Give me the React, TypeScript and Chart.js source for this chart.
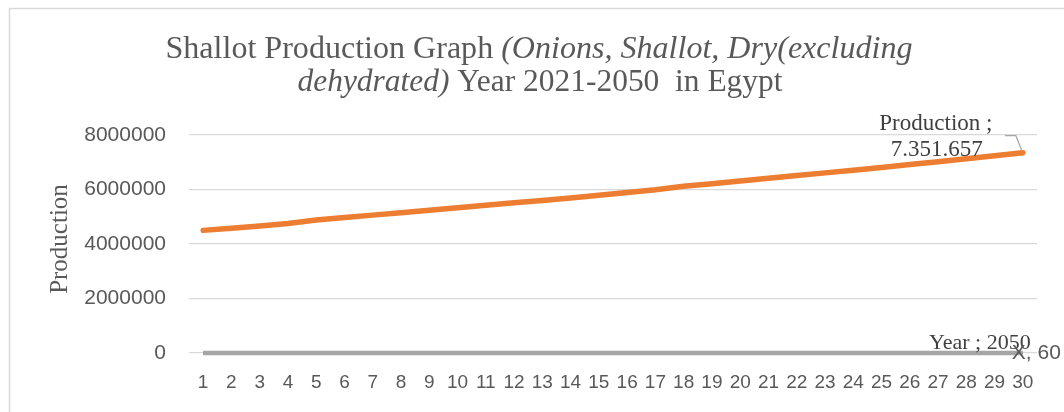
import React, { useEffect, useRef } from "react";
import { Chart, registerables } from "chart.js";
Chart.register(...registerables);

const categories = ["1","2","3","4","5","6","7","8","9","10","11","12","13","14","15","16","17","18","19","20","21","22","23","24","25","26","27","28","29","30"];
const production = [4500000,4580000,4660000,4750000,4880000,4970000,5060000,5150000,5240000,5330000,5420000,5510000,5600000,5690000,5790000,5890000,5990000,6120000,6210000,6310000,6410000,6510000,6610000,6710000,6810000,6920000,7020000,7130000,7240000,7351657];
const years = [2021,2022,2023,2024,2025,2026,2027,2028,2029,2030,2031,2032,2033,2034,2035,2036,2037,2038,2039,2040,2041,2042,2043,2044,2045,2046,2047,2048,2049,2050];
const xValues = [2,4,6,8,10,12,14,16,18,20,22,24,26,28,30,32,34,36,38,40,42,44,46,48,50,52,54,56,58,60];
const yTicks = [0,2000000,4000000,6000000,8000000];
const titleLine1 = [{ t: "Shallot Production Graph ", i: false }, { t: "(Onions, Shallot, Dry(excluding", i: true }];
const titleLine2 = [{ t: "dehydrated)", i: true }, { t: " Year 2021-2050  in Egypt", i: false }];
const yTitle = "Production";

const SERIF = '"Liberation Serif", "Times New Roman", serif';
const SANS = '"Liberation Sans", Arial, sans-serif';

function drawMixed(ctx: CanvasRenderingContext2D, segs: { t: string; i: boolean }[], cx: number, baseY: number, size: number, targetW: number) {
  let total = 0;
  const widths = segs.map((s) => {
    ctx.font = `${s.i ? "italic " : ""}${size}px ${SERIF}`;
    const w = ctx.measureText(s.t).width;
    total += w;
    return w;
  });
  const sx = targetW / total;
  ctx.save();
  ctx.translate(cx - targetW / 2, baseY);
  ctx.scale(sx, 1);
  let x = 0;
  segs.forEach((s, k) => {
    ctx.font = `${s.i ? "italic " : ""}${size}px ${SERIF}`;
    ctx.textAlign = "left";
    ctx.textBaseline = "alphabetic";
    ctx.fillStyle = "#595959";
    ctx.fillText(s.t, x, 0);
    x += widths[k];
  });
  ctx.restore();
}

const decorPlugin = {
  id: "decor",
  afterDraw(chart: any) {
    const ctx: CanvasRenderingContext2D = chart.ctx;
    ctx.save();
    // frame
    ctx.strokeStyle = "#d9d9d9";
    ctx.lineWidth = 1.5;
    ctx.strokeRect(9.5, 8.5, 1100, 500);
    // title
    drawMixed(ctx, titleLine1, 539, 58, 32, 747);
    drawMixed(ctx, titleLine2, 540, 91, 32, 485);
    // y title
    ctx.save();
    ctx.translate(60, 239);
    ctx.rotate(-Math.PI / 2);
    ctx.font = `25px ${SERIF}`;
    ctx.fillStyle = "#595959";
    ctx.textAlign = "center";
    ctx.textBaseline = "middle";
    ctx.fillText(yTitle, 0, 0);
    ctx.restore();
    // data labels
    const pm = chart.getDatasetMeta(0).data;
    const pLast = pm[pm.length - 1];
    const last = production.length - 1;
    ctx.strokeStyle = "#a6a6a6";
    ctx.lineWidth = 1.2;
    ctx.beginPath();
    ctx.moveTo(pLast.x - 18, pLast.y - 17);
    ctx.lineTo(pLast.x - 7, pLast.y - 17);
    ctx.lineTo(pLast.x - 1, pLast.y - 2);
    ctx.stroke();
    ctx.fillStyle = "#404040";
    ctx.font = `23px ${SERIF}`;
    ctx.textAlign = "center";
    ctx.textBaseline = "middle";
    ctx.fillText("Production ;", pLast.x - 87, pLast.y - 29);
    const v = String(production[last]).replace(/\B(?=(\d{3})+(?!\d))/g, ".");
    ctx.fillText(v, pLast.x - 86, pLast.y - 3);
    const ym = chart.getDatasetMeta(1).data;
    const yLast = ym[ym.length - 1];
    ctx.font = `22px ${SERIF}`;
    ctx.fillText("Year ; " + years[last], yLast.x - 43, yLast.y - 10);
    const xm = chart.getDatasetMeta(2).data;
    const xLast = xm[xm.length - 1];
    ctx.fillStyle = "#595959";
    ctx.font = `21px ${SANS}`;
    ctx.textAlign = "left";
    ctx.fillText("X, " + xValues[last], xLast.x - 11, xLast.y);
    ctx.restore();
  },
};

export default function App() {
  const ref = useRef<HTMLCanvasElement>(null);
  useEffect(() => {
    document.body.style.margin = "0";
    const chart = new Chart(ref.current!, {
      type: "line",
      data: {
        labels: categories,
        datasets: [
          { label: "Production", data: production, borderColor: "#ed7d31", borderWidth: 5.5, pointRadius: 0, order: 0, borderCapStyle: "round", clip: false },
          { label: "Year", data: years, borderColor: "#a5a5a5", borderWidth: 4.5, pointRadius: 0, order: 1, clip: false },
          { label: "X", data: xValues, borderColor: "#4472c4", borderWidth: 2.25, pointRadius: 0, order: 2, clip: false },
        ],
      },
      options: {
        animation: false,
        responsive: false,
        layout: { padding: { left: 0, right: 27, top: 135, bottom: 0 } },
        plugins: { legend: { display: false }, title: { display: false }, tooltip: { enabled: false } },
        scales: {
          x: {
            offset: true,
            grid: { display: false, drawTicks: false },
            border: { display: false },
            ticks: { color: "#595959", font: { family: SANS, size: 19 }, padding: 18, autoSkip: false, maxRotation: 0 },
            afterFit: (s: any) => { s.height = 59; },
          },
          y: {
            min: 0,
            max: 8000000,
            afterBuildTicks: (s: any) => { s.ticks = yTicks.map((v) => ({ value: v })); },
            grid: { color: "#d9d9d9", drawTicks: false, lineWidth: 1.2 },
            border: { display: false },
            ticks: { color: "#595959", font: { family: SANS, size: 21 }, padding: 23, callback: (v: any) => String(v) },
            afterFit: (s: any) => { s.width = 189; },
          },
        },
      },
      plugins: [decorPlugin],
    } as any);
    return () => chart.destroy();
  }, []);
  return <canvas ref={ref} width={1064} height={412} style={{ display: "block" }} />;
}
